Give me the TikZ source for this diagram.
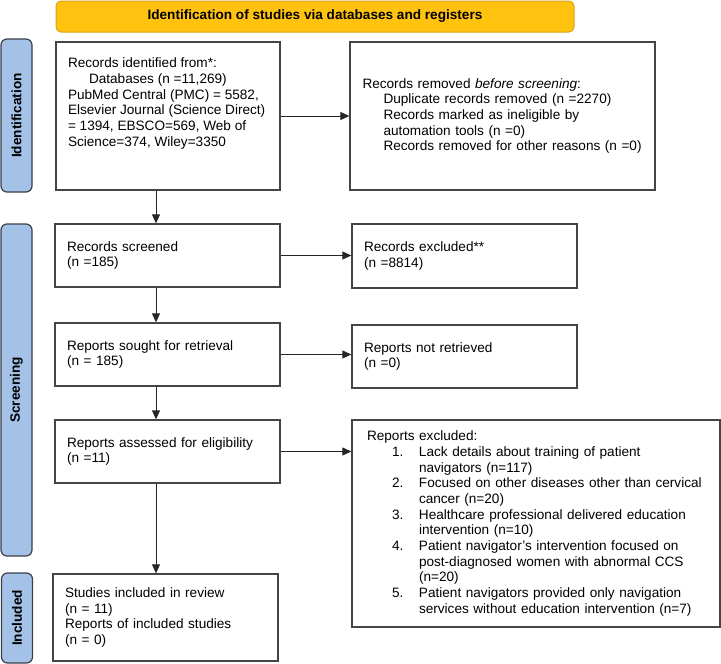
\documentclass[tikz,border=0pt]{standalone}
\usepackage{fontspec}
\setmainfont{Liberation Sans}
\usetikzlibrary{arrows.meta}
\definecolor{bannerfill}{HTML}{FFC20E}
\definecolor{bannerline}{HTML}{D9A21B}
\definecolor{stagefill}{HTML}{A4C2E8}
\definecolor{stageline}{HTML}{3A3F4A}
\definecolor{boxline}{HTML}{454545}
\newcommand{\flowfont}{\fontsize{13.6}{15.7}\selectfont}
\tikzset{
    banner/.style = {draw = bannerline, fill = bannerfill, line width = 1, rounded corners = 5, minimum width = 518, minimum height = 31, font = \flowfont\bfseries},
    stage/.style = {draw = stageline, fill = stagefill, line width = 1.2, rounded corners = 6, rotate = 90, minimum height = 31, font = \flowfont\bfseries},
    box/.style = {draw = boxline, line width = 1.3, align = left, inner xsep = 12, inner ysep = 0},
    arr/.style = {draw = black!85, line width = .8, -{Triangle[length = 9pt, width = 8pt]}}
}
\newcommand{\ind}{\hspace*{21pt}}
\newcommand{\exitem}[1]{\hspace*{25pt}\makebox[27pt][l]{#1}}
\newcommand{\excont}{\hspace*{52pt}}
\begin{document}
    \begin{tikzpicture}[x = 1pt, y = -1pt, font = \flowfont]
        \useasboundingbox (0, 0) rectangle (721, 664);
        \node [banner] (head) at (315, 16.5) {Identification of studies via databases and registers};
        \node [stage, minimum width = 153] (lident) at (16.5, 115.5) {Identification};
        \node [stage, minimum width = 332] (lscreen) at (16.5, 390) {Screening};
        \node [stage, minimum width = 90] (lincl) at (17, 618) {Included};
        \node [box, minimum height = 148] (ident) at (168, 116) {\parbox[c][148pt][t]{200pt}{\vspace*{16pt}Records identified from*:\\ \ind Databases (n =11,269)\\ PubMed Central (PMC) = 5582,\\ Elsevier Journal (Science Direct)\\ = 1394, EBSCO=569, Web of\\ Science=374, Wiley=3350}};
        \node [box, text width = 280pt, inner xsep = 12.5, minimum height = 148] (removed) at (502.5, 116) {Records removed \emph{before screening}:\\ \ind Duplicate records removed (n =2270)\\ \ind Records marked as ineligible by\\ \ind automation tools (n =0)\\ \ind Records removed for other reasons (n =0)};
        \node [box, text width = 201pt, minimum height = 63] (screened) at (167.5, 255.5) {Records screened\\(n =185)};
        \node [box, text width = 201pt, minimum height = 64] (excl) at (464.5, 256) {Records excluded**\\(n =8814)};
        \node [box, text width = 201pt, minimum height = 63] (sought) at (167.5, 354.5) {Reports sought for retrieval\\(n = 185)};
        \node [box, text width = 201pt, minimum height = 63] (notret) at (464.5, 356.5) {Reports not retrieved\\(n =0)};
        \node [box, text width = 201pt, minimum height = 63] (assessed) at (167.5, 451.5) {Reports assessed for eligibility\\(n =11)};
        \node [box, text width = 338pt, inner xsep = 15, minimum height = 207] (exclrep) at (536, 523.5) {Reports excluded:\\
            \exitem{1.}Lack details about training of patient\\ \excont navigators (n=117)\\
            \exitem{2.}Focused on other diseases other than cervical\\ \excont cancer (n=20)\\
            \exitem{3.}Healthcare professional delivered education\\ \excont intervention (n=10)\\
            \exitem{4.}Patient navigator's intervention focused on\\ \excont post-diagnosed women with abnormal CCS\\ \excont (n=20)\\
            \exitem{5.}Patient navigators provided only navigation\\ \excont services without education intervention (n=7)};
        \node [box, text width = 201pt, minimum height = 87] (incl) at (165.5, 617.5) {Studies included in review\\(n = 11)\\Reports of included studies\\(n = 0)};
        \coordinate (spine) at (156, 0);
        \draw [arr] (ident.south -| spine) -- (screened.north -| spine);
        \draw [arr] (screened.south -| spine) -- (sought.north -| spine);
        \draw [arr] (sought.south -| spine) -- (assessed.north -| spine);
        \draw [arr] (assessed.south -| spine) -- (incl.north -| spine);
        \draw [arr] (ident.east) -- (ident.east -| removed.west);
        \draw [arr] (screened.east) -- (screened.east -| excl.west);
        \draw [arr] (sought.east) -- (sought.east -| notret.west);
        \draw [arr] (assessed.east) -- (assessed.east -| exclrep.west);
    \end{tikzpicture}
\end{document}
